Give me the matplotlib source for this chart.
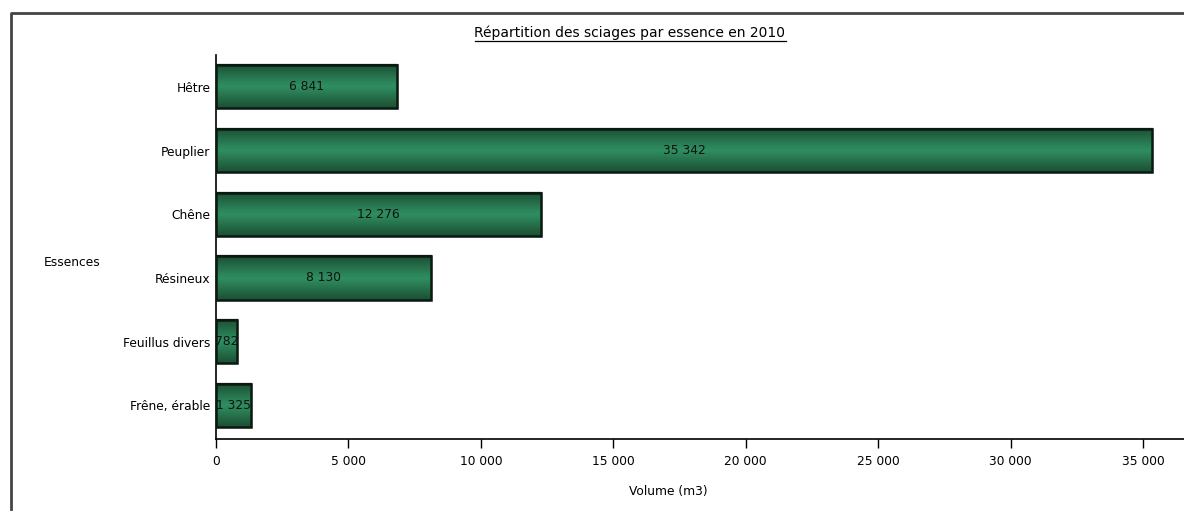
import numpy as np
import matplotlib
matplotlib.use("Agg")
import matplotlib.pyplot as plt
from matplotlib.lines import Line2D
from matplotlib.colors import LinearSegmentedColormap

essences = ["Hêtre", "Peuplier", "Chêne", "Résineux", "Feuillus divers", "Frêne, érable"]
volumes = [6841, 35342, 12276, 8130, 782, 1325]
ticks = [0, 5000, 10000, 15000, 20000, 25000, 30000, 35000]

plt.rcParams["font.family"] = ["DejaVu Sans"]
plt.rcParams["font.size"] = 8.8

W, H = 1184, 516
fig = plt.figure(figsize=(W / 100, H / 100), dpi=100)
ax = fig.add_axes([216 / W, 1 - 439 / H, (W - 216) / W, (439 - 55) / H])

def fmt(v):
    return f"{v:,}".replace(",", " ")

y = np.arange(len(essences))
bars = ax.barh(y, volumes, height=0.68, color="#2a7a52",
               edgecolor="#0b1a10", linewidth=1.6, zorder=2)

# gradient vertical (sombre en haut/bas, clair au centre)
cmap = LinearSegmentedColormap.from_list(
    "g", ["#1c4f35", "#26704a", "#2f8f62", "#26704a", "#1c4f35"])
grad = np.linspace(0, 1, 64).reshape(-1, 1)
for b in bars:
    x0, y0 = b.get_x(), b.get_y()
    im = ax.imshow(grad, cmap=cmap, aspect="auto", interpolation="bilinear",
                   extent=(x0, x0 + b.get_width(), y0, y0 + b.get_height()),
                   zorder=2.5)
    im.set_clip_path(b)
    ax.add_patch(plt.Rectangle((x0, y0), b.get_width(), b.get_height(),
                               fill=False, edgecolor="#0b1a10", lw=1.8, zorder=3))

for yi, v in zip(y, volumes):
    ax.text(v / 2, yi, fmt(v), ha="center", va="center",
            color="#111111", zorder=4)

ax.set_xlim(0, 36550)
ax.set_ylim(len(essences) - 0.47, -0.5)
ax.set_yticks(y)
ax.set_yticklabels(essences)
ax.set_xticks(ticks)
ax.set_xticklabels([fmt(t) for t in ticks])
ax.tick_params(axis="y", length=0, pad=4)
ax.tick_params(axis="x", length=6.5, width=1, pad=5, direction="out")
for s in ["top", "right"]:
    ax.spines[s].set_visible(False)
ax.spines["left"].set_linewidth(1.2)
ax.spines["bottom"].set_linewidth(1.2)

ax.set_xlabel("Volume (m3)")
ax.xaxis.set_label_coords((668 - 216) / (W - 216), -(485 - 439) / (439 - 55))
fig.text(72 / W, 1 - 263 / H, "Essences", ha="center", va="center")

t = fig.text(630 / W, 1 - 33 / H, "Répartition des sciages par essence en 2010",
             ha="center", va="center", fontsize=10)
fig.canvas.draw()
bb = t.get_window_extent()
fig.add_artist(Line2D([bb.x0 / W, bb.x1 / W], [(bb.y0 - 1) / H] * 2,
                      transform=fig.transFigure, color="black", lw=0.9))

# cadre extérieur
fig.add_artist(Line2D([11 / W, 11 / W, 1.0], [1 - 509 / H, 1 - 13 / H, 1 - 13 / H],
                      transform=fig.transFigure, color="#444444", lw=2))

fig.savefig("out.png", dpi=100)
